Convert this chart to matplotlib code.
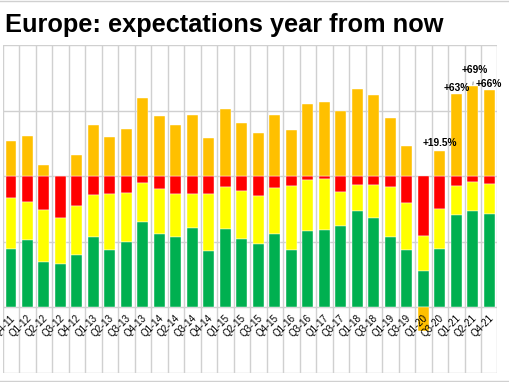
import matplotlib
matplotlib.use("Agg")
import matplotlib.pyplot as plt
import numpy as np

labels = ["Q4-11", "Q1-12", "Q2-12", "Q3-12", "Q4-12", "Q1-13", "Q2-13", "Q3-13",
          "Q4-13", "Q1-14", "Q2-14", "Q3-14", "Q4-14", "Q1-15", "Q2-15", "Q3-15",
          "Q4-15", "Q1-16", "Q3-16", "Q1-17", "Q3-17", "Q1-18", "Q3-18", "Q1-19",
          "Q3-19", "Q1-20", "Q3-20", "Q1-21", "Q2-21", "Q4-21"]
worse = [16.7, 19.7, 25.8, 32.1, 22.5, 14.4, 13.4, 13.1, 5.1, 9.6, 13.4, 13.9, 13.6, 8.3, 11.6,
         14.9, 8.8, 7.8, 2.8, 1.8, 12.4, 6.8, 6.6, 8.6, 20.2, 45.7, 25.0, 7.1, 4.5, 5.8]
same = [39.1, 29.3, 39.6, 34.6, 37.9, 31.6, 43.2, 37.4, 29.5, 34.3, 33.3, 25.5, 43.2, 31.6, 35.9,
        37.1, 35.1, 48.8, 39.1, 38.9, 25.2, 19.7, 25.0, 38.1, 36.1, 26.3, 30.3, 22.2, 21.8, 23.0]
better = [44.2, 51.0, 34.6, 33.3, 39.6, 54.0, 43.4, 49.5, 65.4, 56.1, 53.3, 60.6, 43.2, 60.1, 52.5,
          48.0, 56.1, 43.4, 58.1, 59.3, 62.4, 73.5, 68.4, 53.3, 43.7, 28.0, 44.7, 70.7, 73.7, 71.2]
net = [26.8, 30.6, 8.3, 0.5, 16.4, 39.1, 29.8, 35.9, 59.8, 46.0, 39.4, 46.5, 29.0, 51.5, 40.9,
       32.6, 47.0, 35.1, 55.1, 56.8, 49.5, 66.2, 61.6, 44.2, 23.0, -18.0, 19.5, 63.0, 69.0, 66.0]
annotations = {26: "+19.5%", 27: "+63%", 28: "+69%", 29: "+66%"}

C_NET = "#FFC000"
C_WORSE = "#FF0000"
C_SAME = "#FFFF00"
C_BETTER = "#00B050"
C_GRID = "#D0D0D0"

plt.rcParams["font.family"] = ["Liberation Sans", "DejaVu Sans"]

fig = plt.figure(figsize=(5.1, 3.82), dpi=100)
ax = fig.add_axes([2.7 / 510, 9 / 382, 494.8 / 510, 328 / 382])

x = np.arange(len(labels))
w = np.array(worse)
s = np.array(same)
b = np.array(better)
n = np.array(net)

bw = 0.66
ekw = dict(edgecolor="#FFFFFF", linewidth=0.3, zorder=3)
ax.bar(x, -w, bw, color=C_WORSE, **ekw)
ax.bar(x, -s, bw, bottom=-w, color=C_SAME, **ekw)
ax.bar(x, -b, bw, bottom=-(w + s), color=C_BETTER, **ekw)
net_bottom = np.where(n >= 0, 0, -(w + s + b))
ax.bar(x, n, bw, bottom=net_bottom, color=C_NET, **ekw)

ax.set_xlim(-0.5, len(labels) - 0.5)
ax.set_ylim(-150, 100)
for yv in [100, 50, 0, -50, -100, -150]:
    ax.axhline(yv, color=C_GRID, linewidth=1.0, zorder=1)
for xv in np.arange(-0.5, len(labels), 1.0):
    ax.axvline(xv, color=C_GRID, linewidth=1.0, zorder=1)
for sp in ax.spines.values():
    sp.set_visible(False)
ax.set_xticks([])
ax.set_yticks([])

for i, lab in enumerate(labels):
    ax.text(i + 0.15, -107, lab, rotation=45, ha="right", va="center",
            rotation_mode="anchor", fontsize=7, color="#000000", zorder=5)

for i, txt in annotations.items():
    if i == 28:
        ax.annotate(txt, xy=(i, n[i]), xytext=(i + 0.1, n[i] + 12),
                    ha="center", va="center", fontsize=7.3, fontweight="bold",
                    color="#000000",
                    arrowprops=dict(arrowstyle="-", color="#808080", lw=0.6,
                                    shrinkA=3, shrinkB=0.5), zorder=6)
    elif i == 26:
        ax.text(i, n[i] + 6, txt, ha="center", va="center", fontsize=7.3,
                fontweight="bold", color="#000000", zorder=6)
    else:
        ax.text(i, n[i] + 4.2, txt, ha="center", va="center", fontsize=7.3,
                fontweight="bold", color="#000000", zorder=6)

fig.text(5 / 510, 1 - 32 / 382, "Europe: expectations year from now",
         fontsize=18.3, fontweight="bold", ha="left", va="baseline")

fig.add_artist(plt.Line2D([0, 1], [1 - 1 / 382, 1 - 1 / 382], color=C_GRID, lw=1.0))
fig.add_artist(plt.Line2D([0, 1], [1 / 382, 1 / 382], color=C_GRID, lw=1.0))

fig.savefig("out.png", dpi=100)
